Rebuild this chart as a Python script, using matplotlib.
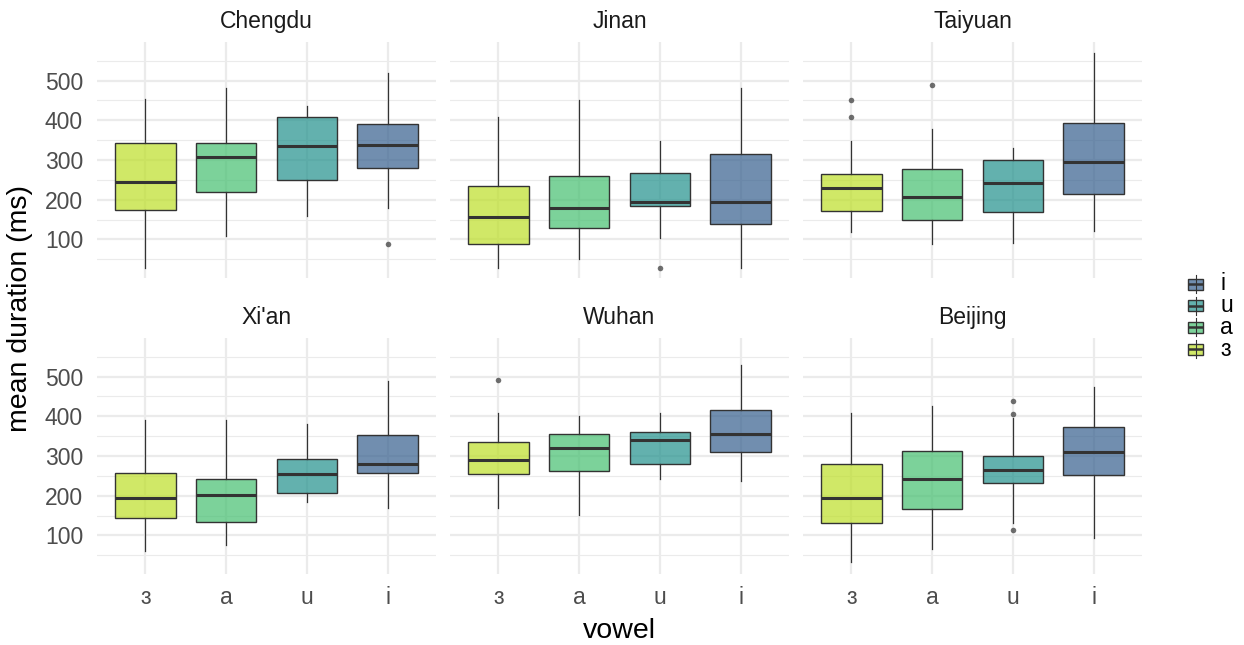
import matplotlib
matplotlib.use('Agg')
import matplotlib.pyplot as plt
from matplotlib.patches import Rectangle

plt.rcParams['font.family'] = ['Liberation Sans', 'DejaVu Sans']

CITIES = ['Chengdu', 'Jinan', 'Taiyuan', "Xi'an", 'Wuhan', 'Beijing']
VOWELS = ['ɜ', 'a', 'u', 'i']

# five-number summaries, one row per city, one column per vowel (ms)
WHISK_LO = [
    [29, 108, 159, 180],
    [29, 50, 103, 29],
    [119, 89, 91, 122],
    [62, 76, 185, 170],
    [170, 152, 241, 236],
    [32, 66, 131, 94],
]
Q1 = [
    [174, 219, 249, 279],
    [88, 128, 185, 139],
    [172, 148, 170, 215],
    [143, 135, 208, 258],
    [255, 261, 280, 311],
    [132, 166, 232, 251],
]
MEDIAN = [
    [245, 308, 335, 339],
    [157, 179, 195, 194],
    [229, 206, 243, 294],
    [194, 201, 254, 281],
    [290, 320, 340, 355],
    [195, 241, 266, 311],
]
Q3 = [
    [344, 344, 407, 390],
    [234, 259, 268, 315],
    [264, 277, 301, 392],
    [258, 241, 293, 352],
    [334, 356, 360, 416],
    [281, 312, 301, 374],
]
WHISK_HI = [
    [453, 480, 436, 520],
    [409, 450, 348, 480],
    [348, 379, 329, 569],
    [390, 390, 380, 490],
    [408, 400, 409, 530],
    [409, 425, 395, 473],
]
OUTLIERS = [
    [[], [], [], [89]],
    [[], [], [29], []],
    [[450, 407], [490], [], []],
    [[], [], [], []],
    [[492], [], [], []],
    [[], [], [439, 406, 113], []],
]

W, H = 1244, 645
COLS = [(97, 436), (450, 789), (803, 1142)]
ROWS = [(42, 278), (338, 574)]

viridis = matplotlib.colormaps['viridis']
fills = [viridis(v) for v in (0.9, 0.7, 0.5, 0.3)]
EDGE = '#333333'
GRID = '#EBEBEB'
TICK_SIZE = 16.5
TITLE_SIZE = 20.5

fig = plt.figure(figsize=(W / 100, H / 100), dpi=100)

for k, city in enumerate(CITIES):
    r, c = divmod(k, 3)
    x0, x1 = COLS[c]
    y0, y1 = ROWS[r]
    ax = fig.add_axes([x0 / W, 1 - y1 / H, (x1 - x0) / W, (y1 - y0) / H])

    stats = []
    for j in range(len(VOWELS)):
        stats.append(dict(whislo=WHISK_LO[k][j], q1=Q1[k][j], med=MEDIAN[k][j],
                          q3=Q3[k][j], whishi=WHISK_HI[k][j],
                          fliers=OUTLIERS[k][j]))
    bp = ax.bxp(stats, positions=range(1, 5), widths=0.75, patch_artist=True,
                showcaps=False,
                boxprops=dict(edgecolor=EDGE, linewidth=1.0),
                medianprops=dict(color=EDGE, linewidth=2.2, solid_capstyle='butt'),
                whiskerprops=dict(color=EDGE, linewidth=0.9),
                flierprops=dict(marker='o', markersize=4, markerfacecolor=EDGE,
                                markeredgecolor='none', alpha=0.7))
    for patch, col in zip(bp['boxes'], fills):
        patch.set_facecolor((col[0], col[1], col[2], 0.7))

    ax.set_xlim(0.4, 4.6)
    ax.set_ylim(3, 597)
    ax.set_xticks(range(1, 5))
    ax.set_yticks([100, 200, 300, 400, 500])
    ax.set_yticks([50, 150, 250, 350, 450, 550], minor=True)
    ax.set_axisbelow(True)
    ax.grid(True, which='major', color=GRID, linewidth=1.6)
    ax.grid(True, which='minor', axis='y', color=GRID, linewidth=0.8)
    for s in ax.spines.values():
        s.set_visible(False)
    ax.tick_params(which='both', length=0, labelsize=TICK_SIZE, colors='#4D4D4D')
    ax.tick_params(axis='y', pad=10)
    ax.tick_params(axis='x', pad=9)

    if r == 1:
        ax.set_xticklabels(VOWELS)
    else:
        ax.set_xticklabels([])
    if c != 0:
        ax.set_yticklabels([])

    ax.set_title(city, fontsize=TICK_SIZE, color='#1A1A1A', pad=10)

fig.text(619.5 / W, 1 - 638 / H, 'vowel', fontsize=TITLE_SIZE,
         ha='center', va='baseline')
fig.text(20 / W, 1 - 308 / H, 'mean duration (ms)', fontsize=TITLE_SIZE,
         rotation=90, ha='center', va='center')

# legend drawn in pixel space, reversed order (i on top)
lg = fig.add_axes([0, 0, 1, 1])
lg.set_xlim(0, W)
lg.set_ylim(H, 0)
lg.axis('off')
for n, j in enumerate(reversed(range(len(VOWELS)))):
    cy = 284 + n * 21.7
    cx = 1195.5
    col = fills[j]
    lg.plot([cx, cx], [cy - 9, cy + 9], color=EDGE, linewidth=0.8)
    lg.add_patch(Rectangle((cx - 7.5, cy - 5.5), 15, 11,
                           facecolor=(col[0], col[1], col[2], 0.7),
                           edgecolor=EDGE, linewidth=1.0))
    lg.plot([cx - 7.5, cx + 7.5], [cy, cy], color=EDGE, linewidth=1.8,
            solid_capstyle='butt')
    lg.text(1220, cy, VOWELS[j], fontsize=TICK_SIZE, ha='left', va='center')

fig.savefig('out.png', dpi=100, facecolor='white')
